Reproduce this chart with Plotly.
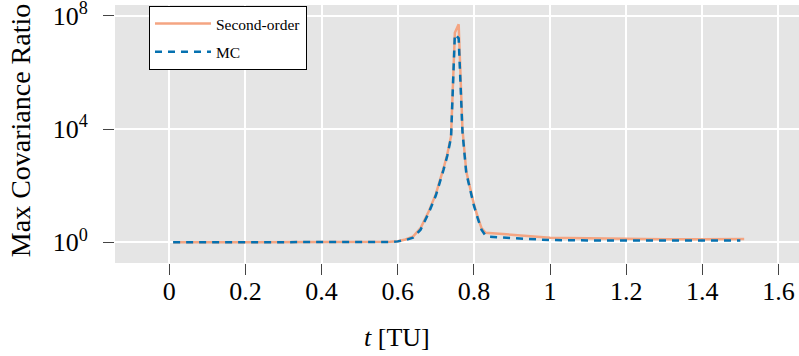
import plotly.graph_objects as go

# Second-order series
t_so = [0.01, 0.1, 0.2, 0.3, 0.4, 0.5, 0.55, 0.58, 0.6, 0.62, 0.64, 0.66, 0.68, 0.70,
        0.72, 0.73, 0.74, 0.75, 0.76, 0.77, 0.78, 0.79, 0.80, 0.81, 0.82, 0.83,
        0.9, 1.0, 1.1, 1.2, 1.3, 1.4, 1.51]
v_so = [1.0, 1.0, 1.0, 1.0, 1.0, 1.0, 1.01, 1.04, 1.1, 1.26, 1.58, 3.16, 11.2, 50.1,
        398, 1.26e3, 5.6e3, 2.5e7, 5.0e7, 1.0e4, 316, 79.4, 22.4, 7.9, 3.16, 2.19,
        1.82, 1.45, 1.38, 1.31, 1.29, 1.28, 1.31]

# MC series
t_mc = [0.01, 0.1, 0.2, 0.3, 0.4, 0.5, 0.55, 0.58, 0.6, 0.62, 0.64, 0.66, 0.68, 0.70,
        0.72, 0.73, 0.74, 0.75, 0.76, 0.77, 0.78, 0.79, 0.80, 0.81, 0.82, 0.83, 0.84,
        0.9, 1.0, 1.1, 1.2, 1.3, 1.4, 1.5]
v_mc = [1.0, 1.0, 1.0, 1.0, 1.0, 1.0, 1.01, 1.03, 1.08, 1.2, 1.45, 2.8, 10.0, 44.7,
        355, 1.12e3, 5.0e3, 2.2e7, 1.6e7, 8.0e3, 282, 70.8, 20.0, 7.1, 2.8, 1.78, 1.58,
        1.41, 1.2, 1.17, 1.15, 1.15, 1.15, 1.15]

x_ticks = [0, 0.2, 0.4, 0.6, 0.8, 1, 1.2, 1.4, 1.6]
x_tick_text = ["0", "0.2", "0.4", "0.6", "0.8", "1", "1.2", "1.4", "1.6"]
y_ticks = [1, 1e4, 1e8]
y_tick_text = ["10<sup>0</sup>", "10<sup>4</sup>", "10<sup>8</sup>"]

x_title = "<i>t</i> [TU]"
y_title = "Max Covariance Ratio"

FONT = "Liberation Serif"

fig = go.Figure()
fig.add_trace(go.Scatter(x=t_so, y=v_so, mode="lines", name="Second-order",
                         legendgroup="a",
                         line=dict(color="#f4a582", width=2.5)))
fig.add_trace(go.Scatter(x=t_mc, y=v_mc, mode="lines", name="MC",
                         legendgroup="b",
                         line=dict(color="#0571b0", width=2.5, dash="7px,6px")))

fig.update_layout(
    width=799, height=356,
    margin=dict(l=115, r=0, t=5, b=93, autoexpand=False),
    paper_bgcolor="white",
    plot_bgcolor="#e5e5e5",
    font=dict(family=FONT, size=26, color="black"),
    showlegend=True,
    legend=dict(x=0.0497, y=0.996, xanchor="left", yanchor="top",
                bgcolor="white", bordercolor="black", borderwidth=1,
                font=dict(family=FONT, size=15.5), itemwidth=56,
                tracegroupgap=5, traceorder="grouped"),
    annotations=[
        dict(text=x_title, xref="paper", yref="paper", x=0.412, y=-0.287,
             xanchor="center", yanchor="middle", showarrow=False,
             font=dict(family=FONT, size=26)),
        dict(text=y_title, xref="paper", yref="paper", x=-0.137, y=0.512,
             xanchor="center", yanchor="middle", showarrow=False, textangle=-90,
             font=dict(family=FONT, size=28)),
    ],
)
fig.update_xaxes(
    range=[-0.1427, 1.654], automargin=False, ticklabeloverflow="allow",
    tickvals=x_ticks, ticktext=x_tick_text,
    showgrid=True, gridcolor="white", gridwidth=1.5,
    zeroline=False, showline=False,
    ticks="outside", ticklen=11, tickcolor="#444", tickwidth=1,
    ticklabelstandoff=-6,
    tickfont=dict(family=FONT, size=26),
)
fig.update_yaxes(
    type="log", range=[-0.73, 8.38], automargin=False, ticklabeloverflow="allow",
    tickvals=y_ticks, ticktext=y_tick_text,
    showgrid=True, gridcolor="white", gridwidth=1.5,
    zeroline=False, showline=False,
    ticks="outside", ticklen=11, tickcolor="#444", tickwidth=1,
    ticklabelstandoff=10,
    tickfont=dict(family=FONT, size=26),
)

fig.write_html("out.html", config={"displayModeBar": False},
               post_script="document.body.style.margin='0';document.body.style.overflow='hidden';")
